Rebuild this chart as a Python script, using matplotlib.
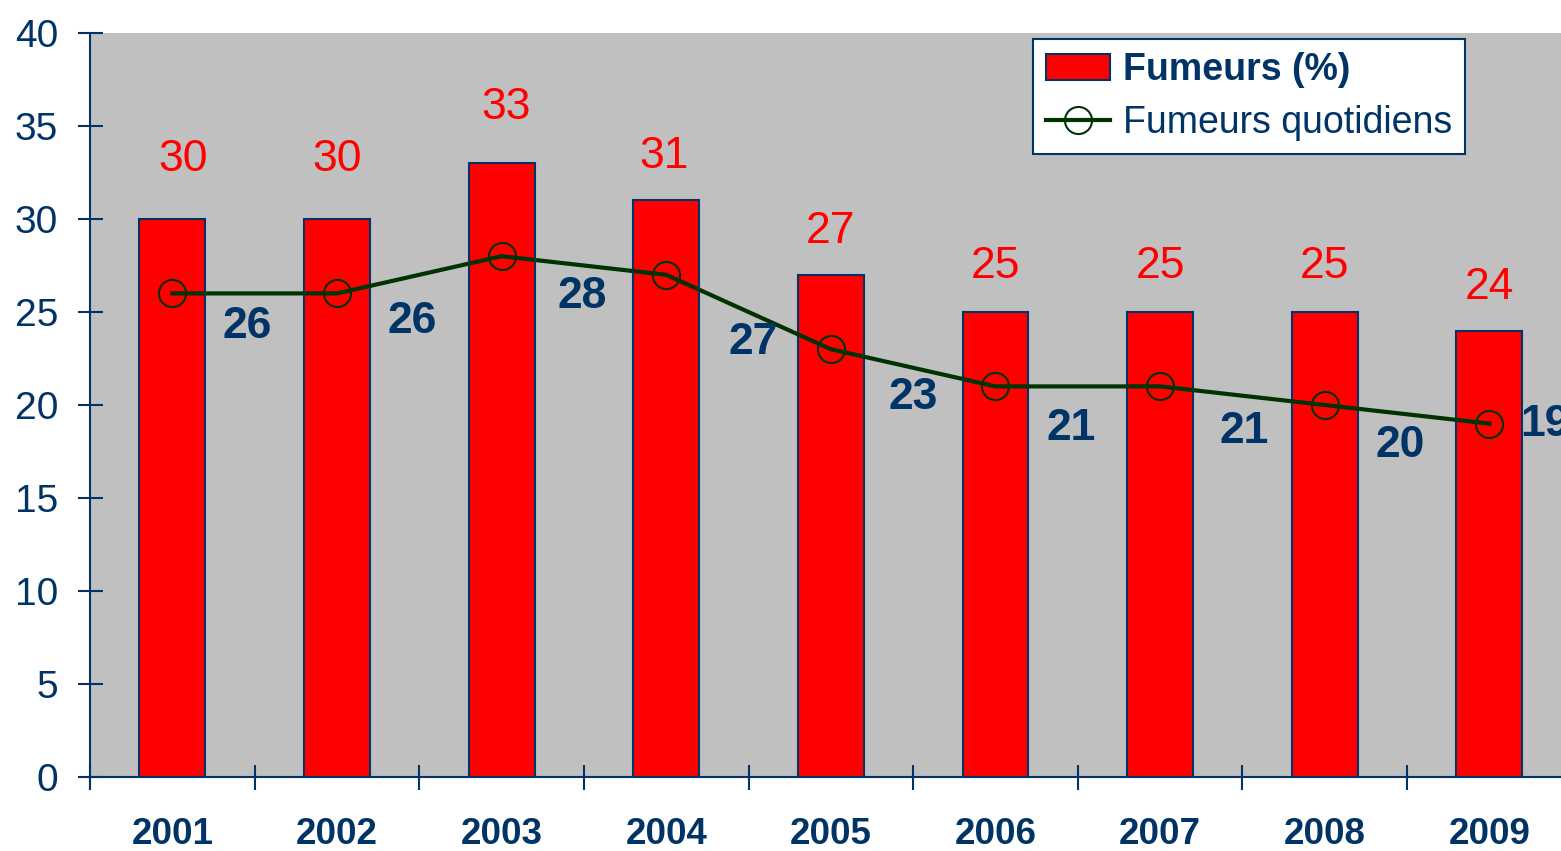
import matplotlib
matplotlib.use('Agg')
import matplotlib.pyplot as plt
import numpy as np

plt.rcParams['font.family'] = ['Liberation Sans', 'DejaVu Sans']

annees = ['2001', '2002', '2003', '2004', '2005', '2006', '2007', '2008', '2009']
fumeurs = [30, 30, 33, 31, 27, 25, 25, 25, 24]
quotidiens = [26, 26, 28, 27, 23, 21, 21, 20, 19]

# décalage des étiquettes (pixels)
decal_rouge = [(11, 59), (0, 59), (5, 56), (-2, 44), (0, 43), (0, 45), (0, 45), (0, 45), (0, 43)]
decal_bleu = [(75, -33), (75, -28), (81, -40), (87, -68), (82, -48), (76, -42), (84, -45), (75, -41), (56, -1)]

bleu = '#003366'
vert = '#003300'

fig = plt.figure(figsize=(15.61, 8.51), dpi=100)
ax = fig.add_axes([90/1561, 1-777/851, 1-90/1561, (777-33)/851])
ax.set_facecolor('#C0C0C0')

x = np.arange(len(annees))
barres = ax.bar(x, fumeurs, width=0.4, color='#FF0000', edgecolor=bleu, linewidth=1.5,
                label='Fumeurs (%)', zorder=2)
ligne, = ax.plot(x, quotidiens, color=vert, linewidth=3, marker='o', markersize=19.5,
                 markerfacecolor='none', markeredgecolor=vert, markeredgewidth=1.5,
                 label='Fumeurs quotidiens', zorder=3)

for i in range(len(annees)):
    ax.annotate(str(fumeurs[i]), (x[i], fumeurs[i]), xytext=decal_rouge[i], textcoords='offset pixels',
                ha='center', va='center', color='#FF0000', fontsize=32, zorder=4)
    ax.annotate(str(quotidiens[i]), (x[i], quotidiens[i]), xytext=decal_bleu[i], textcoords='offset pixels',
                ha='center', va='center', color=bleu, fontsize=32, fontweight='bold',
                zorder=4, annotation_clip=False)

ax.set_ylim(0, 40)
ax.set_yticks(range(0, 41, 5))
ax.set_xlim(-0.485, 8.435)
ax.set_xticks(x)
ax.set_xticklabels(annees, fontsize=26.5, fontweight='bold', color=bleu)
ax.set_xticks(np.arange(-0.5, 8.5, 1), minor=True)
ax.tick_params(axis='x', which='major', length=0, pad=29)
ax.tick_params(axis='x', which='minor', direction='inout', length=18, width=1.5, color=bleu)
ax.tick_params(axis='y', direction='inout', length=18, width=1.5, color=bleu,
               labelsize=28, labelcolor=bleu, pad=14)

for s in ['top', 'right']:
    ax.spines[s].set_visible(False)
for s in ['left', 'bottom']:
    ax.spines[s].set_color(bleu)
    ax.spines[s].set_linewidth(1.5)
ax.spines['left'].set_bounds(-0.65, 40)

leg = ax.legend(handles=[barres, ligne], loc='upper left',
                bbox_to_anchor=((1033-90)/1471, 1-6/744), fontsize=27,
                frameon=True, fancybox=False, edgecolor=bleu, framealpha=1,
                borderpad=0.35, labelspacing=0.45, handlelength=1.7, handletextpad=0.35,
                borderaxespad=0)
leg.get_frame().set_linewidth(1.5)
for t in leg.get_texts():
    t.set_color(bleu)
leg.get_texts()[0].set_fontweight('bold')

fig.savefig('out.png', dpi=100)
